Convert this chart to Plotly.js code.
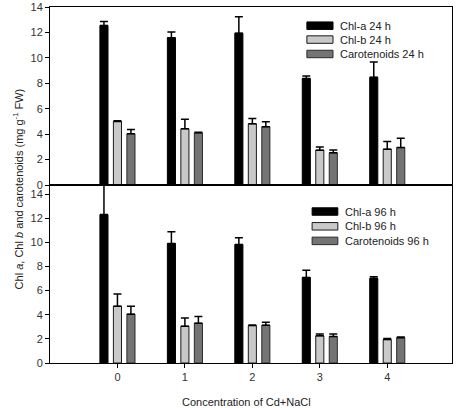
<!DOCTYPE html>
<html>
<head>
<meta charset="utf-8">
<script src="https://cdn.plot.ly/plotly-3.0.1.min.js"></script>
<style>
  html, body { margin: 0; padding: 0; background: #fff; }
  #chart { width: 458px; height: 408px; }
</style>
</head>
<body>
<div id="chart"></div>
<script>
// Cd+NaCl concentration levels
var concentrations = ['0', '1', '2', '3', '4'];

// Pigment contents (mg g-1 FW) after 24 h
var chlA24 = [12.55, 11.58, 11.94, 8.37, 8.47];
var chlA24Err = [0.30, 0.45, 1.30, 0.20, 1.20];
var chlB24 = [5.00, 4.42, 4.81, 2.74, 2.82];
var chlB24Err = [0.05, 0.76, 0.42, 0.24, 0.60];
var car24 = [4.03, 4.10, 4.58, 2.53, 2.94];
var car24Err = [0.34, 0.05, 0.40, 0.23, 0.73];

// Pigment contents (mg g-1 FW) after 96 h
var chlA96 = [12.30, 9.90, 9.82, 7.09, 7.00];
var chlA96Err = [2.80, 0.97, 0.55, 0.60, 0.15];
var chlB96 = [4.71, 3.05, 3.10, 2.25, 1.94];
var chlB96Err = [1.00, 0.67, 0.05, 0.16, 0.08];
var car96 = [4.05, 3.30, 3.13, 2.19, 2.10];
var car96Err = [0.66, 0.55, 0.25, 0.22, 0.05];

var names24 = ['Chl-a 24 h', 'Chl-b 24 h', 'Carotenoids 24 h'];
var names96 = ['Chl-a 96 h', 'Chl-b 96 h', 'Carotenoids 96 h'];

var fills = ['#000000', '#c9c9c9', '#747474'];
var outlines = ['#000000', '#1a1a1a', '#2a2a2a'];
var FONT = 'Liberation Sans, Arial, sans-serif';

function zeros(n) { var a = []; for (var i = 0; i < n; i++) a.push(0); return a; }

function barTrace(name, vals, errs, k, xa, ya) {
  return {
    type: 'bar', name: name, x: concentrations, y: vals,
    xaxis: xa, yaxis: ya, showlegend: false,
    marker: { color: fills[k], line: { color: outlines[k], width: 1 } },
    error_y: { type: 'data', array: errs, arrayminus: zeros(errs.length),
               symmetric: false, color: '#000', thickness: 1.5, width: 4 }
  };
}

var traces = [
  barTrace(names24[0], chlA24, chlA24Err, 0, 'x', 'y'),
  barTrace(names24[1], chlB24, chlB24Err, 1, 'x', 'y'),
  barTrace(names24[2], car24, car24Err, 2, 'x', 'y'),
  barTrace(names96[0], chlA96, chlA96Err, 0, 'x2', 'y2'),
  barTrace(names96[1], chlB96, chlB96Err, 1, 'x2', 'y2'),
  barTrace(names96[2], car96, car96Err, 2, 'x2', 'y2')
];

// Key boxes: wide swatch + label inside each panel
var shapes = [], annotations = [];
function addKey(names, yref, x0, x1, xText, rows) {
  for (var k = 0; k < names.length; k++) {
    shapes.push({ type: 'rect', xref: 'paper', yref: yref,
      x0: x0, x1: x1, y0: rows[k] - 0.021, y1: rows[k] + 0.021,
      fillcolor: fills[k], line: { color: outlines[k], width: 1 } });
    annotations.push({ xref: 'paper', yref: yref, x: xText, y: rows[k],
      xanchor: 'left', yanchor: 'middle', showarrow: false, text: names[k],
      font: { family: FONT, size: 11, color: '#222' } });
  }
}
addKey(names24, 'y domain', 0.639, 0.704, 0.716, [0.895, 0.817, 0.736]);
addKey(names96, 'y2 domain', 0.652, 0.716, 0.728, [0.851, 0.768, 0.686]);

// Shared axis titles
annotations.push({
  xref: 'paper', yref: 'paper', x: -0.08, y: 0.49, xanchor: 'center', yanchor: 'middle',
  textangle: -90, showarrow: false,
  text: 'Chl <i>a</i>, Chl <i>b</i> and carotenoids (mg g<sup>-1</sup> FW)',
  font: { family: FONT, size: 11, color: '#222' }
});
annotations.push({
  xref: 'paper', yref: 'paper', x: 0.49, y: -0.11, xanchor: 'center', yanchor: 'middle',
  showarrow: false, text: 'Concentration of Cd+NaCl',
  font: { family: FONT, size: 11, color: '#222' }
});

var axisCommon = {
  showline: true, linecolor: '#000', linewidth: 1, mirror: true,
  showgrid: false, zeroline: false,
  tickfont: { family: FONT, size: 11, color: '#333' }
};

var layout = {
  width: 458, height: 408,
  margin: { l: 50, r: 6, t: 7, b: 45 },
  paper_bgcolor: '#fff', plot_bgcolor: '#fff',
  barmode: 'group', bargap: 0.4, bargroupgap: 0.4,
  showlegend: false,
  font: { family: FONT, size: 11, color: '#222' },
  xaxis: Object.assign({}, axisCommon, {
    type: 'category', domain: [0, 1], anchor: 'y', range: [-1, 4.96],
    showticklabels: false, ticks: ''
  }),
  xaxis2: Object.assign({}, axisCommon, {
    type: 'category', domain: [0, 1], anchor: 'y2', range: [-1, 4.96], matches: 'x',
    tickmode: 'array', tickvals: concentrations, ticktext: concentrations,
    ticks: 'outside', ticklen: 4, tickcolor: '#000'
  }),
  yaxis: Object.assign({}, axisCommon, {
    domain: [0.5, 1], anchor: 'x', range: [0, 14], dtick: 2,
    ticks: 'outside', ticklen: 4, tickcolor: '#000'
  }),
  yaxis2: Object.assign({}, axisCommon, {
    domain: [0, 0.5], anchor: 'x2', range: [0, 14.75],
    tickvals: [0, 2, 4, 6, 8, 10, 12, 14],
    ticks: 'outside', ticklen: 4, tickcolor: '#000'
  }),
  shapes: shapes,
  annotations: annotations
};

Plotly.newPlot('chart', traces, layout, { displayModeBar: false, staticPlot: true });
</script>
</body>
</html>
